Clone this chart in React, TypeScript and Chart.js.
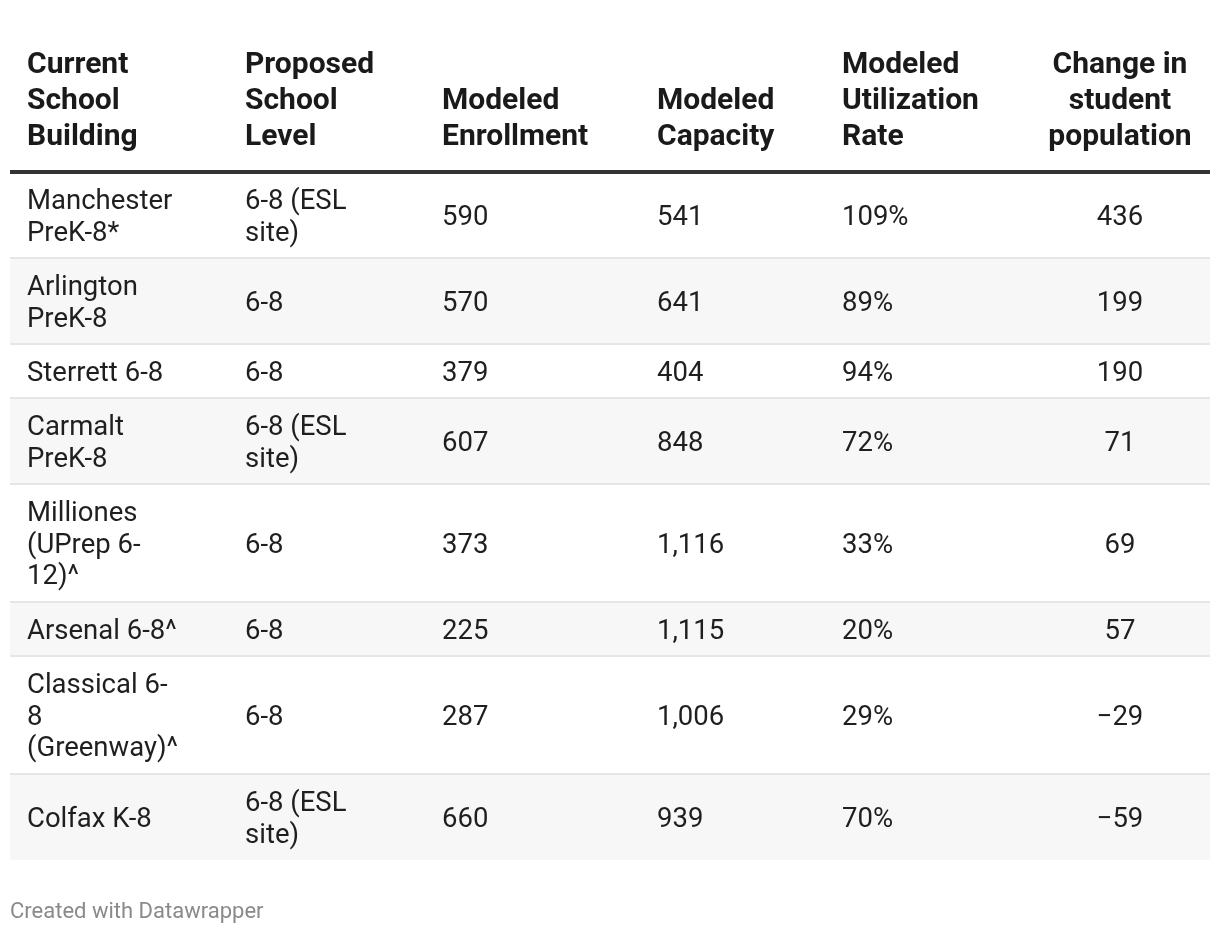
import React, { useEffect, useRef } from "react";
import { Chart, registerables } from "chart.js";

Chart.register(...registerables);

// ---- data ----
const headers = [
  "Current\nSchool\nBuilding",
  "Proposed\nSchool\nLevel",
  "Modeled\nEnrollment",
  "Modeled\nCapacity",
  "Modeled\nUtilization\nRate",
  "Change in\nstudent\npopulation",
];
const buildings = [
  "Manchester\nPreK-8*",
  "Arlington\nPreK-8",
  "Sterrett 6-8",
  "Carmalt\nPreK-8",
  "Milliones\n(UPrep 6-\n12)^",
  "Arsenal 6-8^",
  "Classical 6-\n8\n(Greenway)^",
  "Colfax K-8",
];
const levels = [
  "6-8 (ESL\nsite)",
  "6-8",
  "6-8",
  "6-8 (ESL\nsite)",
  "6-8",
  "6-8",
  "6-8",
  "6-8 (ESL\nsite)",
];
const enrollment = [590, 570, 379, 607, 373, 225, 287, 660];
const capacity = [541, 641, 404, 848, 1116, 1115, 1006, 939];
const utilization = [109, 89, 94, 72, 33, 20, 29, 70];
const change = [436, 199, 190, 71, 69, 57, -29, -59];
const footer = "Created with Datawrapper";

// ---- layout / style ----
const TABLE_W = 1200;
const HEADER_H = 172;
const BODY_LH = 31.5;
const ROW_LH = 32;
const ROW_PAD = 22;
const HEAD_LH = 36;
const HEAD_LAST_BASE = 145;
const COL_ANCHORS = [17, 235, 432, 647, 832, 1110];
const COL_ALIGN: CanvasTextAlign[] = ["left", "left", "left", "left", "left", "center"];
const BODY_SIZE = 27.5;
const BODY_FONT = `${BODY_SIZE}px Roboto`;
const HEAD_FONT = "bold 30px Roboto";

const fmtThousands = (v: number) => v.toLocaleString("en-US");
const fmtPct = (v: number) => `${v}%`;
const fmtChange = (v: number) => (v < 0 ? `\u2212${Math.abs(v)}` : `${v}`);

function cellsForRow(r: number): string[] {
  return [
    buildings[r],
    levels[r],
    fmtThousands(enrollment[r]),
    fmtThousands(capacity[r]),
    fmtPct(utilization[r]),
    fmtChange(change[r]),
  ];
}

const rowLines = buildings.map((_, r) =>
  Math.max(...cellsForRow(r).map((c) => c.split("\n").length))
);
const rowHeights = rowLines.map((n) => n * ROW_LH + ROW_PAD);
const TABLE_H = HEADER_H + rowHeights.reduce((a, b) => a + b, 0);

const tablePlugin = {
  id: "tablePlugin",
  beforeDatasetsDraw(chart: any) {
    const { ctx } = chart;
    const x = chart.scales.x;
    const y = chart.scales.y;
    const left = x.getPixelForValue(0);
    const right = x.getPixelForValue(TABLE_W);
    const w = right - left;
    ctx.save();

    // row backgrounds and separators
    let top = HEADER_H;
    rowHeights.forEach((h, r) => {
      const py0 = y.getPixelForValue(top);
      const py1 = y.getPixelForValue(top + h);
      if (r % 2 === 1) {
        ctx.fillStyle = "#f7f7f7";
        ctx.fillRect(left, py0, w, py1 - py0);
      }
      if (r > 0) {
        ctx.fillStyle = "#e6e6e6";
        ctx.fillRect(left, py0 - 1, w, 2);
      }
      top += h;
    });

    // header line
    ctx.fillStyle = "#333333";
    const hy = y.getPixelForValue(HEADER_H);
    ctx.fillRect(left, hy - 2, w, 4);

    // header text
    ctx.font = HEAD_FONT;
    ctx.fillStyle = "#1a1a1a";
    ctx.textBaseline = "alphabetic";
    headers.forEach((h, c) => {
      const lines = h.split("\n");
      ctx.textAlign = COL_ALIGN[c];
      const px = x.getPixelForValue(COL_ANCHORS[c]);
      lines.forEach((ln, i) => {
        const base = HEAD_LAST_BASE - (lines.length - 1 - i) * HEAD_LH;
        ctx.fillText(ln, px, y.getPixelForValue(base));
      });
    });

    // body text
    ctx.font = BODY_FONT;
    ctx.fillStyle = "#1f1f1f";
    top = HEADER_H;
    rowHeights.forEach((h, r) => {
      const center = top + h / 2;
      cellsForRow(r).forEach((cell, c) => {
        const lines = cell.split("\n");
        ctx.textAlign = COL_ALIGN[c];
        const px = x.getPixelForValue(COL_ANCHORS[c]);
        lines.forEach((ln, i) => {
          const base = center + (i - (lines.length - 1) / 2) * BODY_LH + BODY_SIZE * 0.355;
          ctx.fillText(ln, px, y.getPixelForValue(base));
        });
      });
      top += h;
    });

    ctx.restore();
  },
};

export default function App() {
  const ref = useRef<HTMLCanvasElement | null>(null);
  useEffect(() => {
    if (!ref.current) return;
    const chart = new Chart(ref.current, {
      type: "scatter",
      data: { datasets: [] },
      options: {
        animation: false,
        responsive: false,
        maintainAspectRatio: false,
        events: [],
        layout: { padding: { left: 10, right: 10, top: 0, bottom: 0 } },
        scales: {
          x: { type: "linear", min: 0, max: TABLE_W, display: false },
          y: { type: "linear", min: 0, max: TABLE_H, reverse: true, display: false },
        },
        plugins: {
          legend: { display: false },
          tooltip: { enabled: false },
          title: {
            display: true,
            position: "bottom",
            align: "start",
            text: footer,
            color: "#8a8a8a",
            font: { family: "Roboto", size: 22, weight: "normal" },
            padding: { top: 39.5, bottom: 10.1 },
          },
        },
      },
      plugins: [tablePlugin],
    });
    return () => chart.destroy();
  }, []);
  return (
    <div style={{ position: "absolute", left: 0, top: 0, width: 1220, height: 936, background: "#fff" }}>
      <canvas ref={ref} width={1220} height={936} style={{ width: 1220, height: 936, display: "block" }} />
    </div>
  );
}
